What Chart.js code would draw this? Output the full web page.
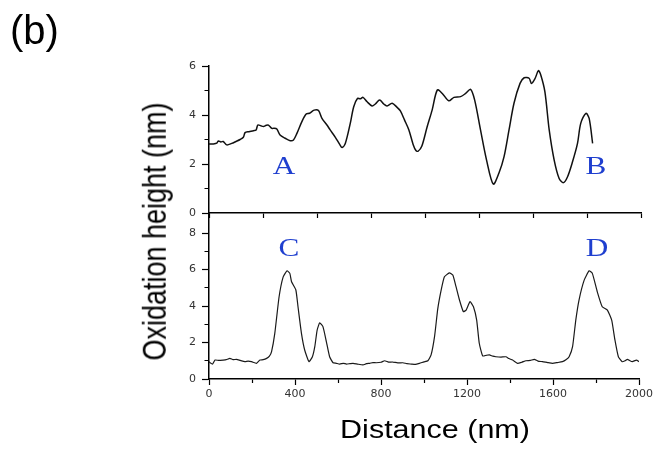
<!DOCTYPE html>
<html><head><meta charset="utf-8">
<script src="https://cdn.jsdelivr.net/npm/chart.js@4"></script>
<style>
html,body{margin:0;padding:0;background:#fff;}
#wrap{position:relative;width:656px;height:449px;overflow:hidden;background:#fff;}
.layer{position:absolute;left:0;top:0;width:656px;height:449px;}
.txt{position:absolute;white-space:nowrap;line-height:1;}
.lbl{position:absolute;width:60px;text-align:center;line-height:1;font-family:"Liberation Serif","Times New Roman",serif;font-size:26px;color:#1f3fcf;transform:scaleX(1.2);transform-origin:50% 50%;}
</style></head><body>
<div id="wrap">
<div class="layer"><canvas id="topc"></canvas></div>
<div class="layer"><canvas id="botc"></canvas></div>
<div class="txt" style="left:10px;top:10px;font-family:'Liberation Sans',Arial,sans-serif;font-size:40px;color:#000;">(b)</div>
<div class="txt" style="left:235px;top:416.8px;width:400px;text-align:center;font-family:'Liberation Sans',Arial,sans-serif;font-size:25px;color:#000;transform:scaleX(1.22);transform-origin:50% 50%;">Distance (nm)</div>
<div class="txt" style="left:-44.6px;top:217.5px;width:400px;text-align:center;font-family:'Liberation Sans',Arial,sans-serif;font-size:27px;color:#000;transform:scaleX(1.24) rotate(-90deg);transform-origin:50% 50%;">Oxidation height (nm)</div>
<div class="lbl" style="left:254px;top:153.2px;">A</div>
<div class="lbl" style="left:566px;top:153.2px;">B</div>
<div class="lbl" style="left:258.5px;top:235.2px;">C</div>
<div class="lbl" style="left:567px;top:235.2px;">D</div>
</div>
<script>
// ---- data ----
const topX = [0,20,36,43,55,66,82,105,125,144,159,167,185,206,218,226,240,252,265,275,291,300,314,329,353,376,391,407,430,450,465,487,507,523,546,561,585,605,616,631,654,670,688,700,713,732,755,770,790,809,824,848,871,886,905,925,945,958,968,985,1010,1033,1057,1080,1110,1134,1165,1188,1211,1230,1257,1285,1316,1342,1366,1389,1412,1440,1459,1482,1493,1510,1525,1536,1555,1575,1598,1621,1641,1660,1683,1706,1721,1745,1760,1776];
const topY = [2.82,2.82,2.85,2.94,2.9,2.92,2.78,2.84,2.92,3.0,3.09,3.28,3.32,3.36,3.39,3.59,3.56,3.53,3.58,3.59,3.45,3.46,3.43,3.18,3.05,2.95,2.98,3.25,3.73,4.04,4.07,4.2,4.18,3.86,3.59,3.39,3.09,2.8,2.67,2.84,3.66,4.34,4.68,4.66,4.72,4.54,4.37,4.45,4.61,4.45,4.37,4.48,4.31,4.17,3.8,3.4,2.8,2.55,2.52,2.72,3.52,4.2,5.02,4.88,4.58,4.72,4.75,4.88,5.05,4.61,3.39,2.16,1.18,1.62,2.3,3.39,4.48,5.29,5.52,5.5,5.29,5.5,5.81,5.63,4.95,3.39,2.16,1.41,1.24,1.48,2.09,2.84,3.66,4.07,3.86,2.84];
const botX = [0,5,17,28,45,66,80,97,112,128,145,167,182,198,221,237,252,268,281,291,306,326,345,363,376,384,404,414,430,445,465,481,492,503,515,530,546,561,577,592,608,625,639,655,670,690,716,732,747,762,778,800,817,835,855,878,902,920,940,960,979,1000,1018,1033,1049,1064,1080,1095,1118,1134,1149,1165,1183,1196,1214,1230,1245,1257,1273,1290,1304,1320,1334,1358,1381,1395,1412,1435,1455,1474,1495,1513,1530,1551,1575,1598,1620,1644,1660,1675,1691,1706,1721,1745,1768,1783,1806,1829,1853,1873,1888,1904,1922,1935,1946,1958,1969,1988,2000];
const botY = [0.95,0.89,0.82,1.04,1.02,1.04,1.06,1.13,1.06,1.08,1.02,0.95,0.98,0.95,0.86,1.04,1.06,1.13,1.25,1.5,2.5,4.51,5.6,5.93,5.79,5.33,4.88,3.96,2.5,1.59,0.95,1.22,1.77,2.68,3.08,2.87,2.04,1.22,0.89,0.86,0.82,0.86,0.82,0.84,0.86,0.82,0.77,0.84,0.86,0.9,0.89,0.92,1.0,0.93,0.93,0.88,0.89,0.84,0.82,0.8,0.86,0.94,1.0,1.32,2.32,3.84,4.88,5.6,5.82,5.7,5.06,4.33,3.69,3.78,4.24,3.96,3.23,1.96,1.26,1.3,1.32,1.25,1.22,1.2,1.22,1.12,1.04,0.86,0.92,1.0,1.02,1.08,0.98,0.95,0.9,0.86,0.9,0.95,1.05,1.22,1.77,3.23,4.33,5.42,5.93,5.79,4.78,3.96,3.78,3.23,2.14,1.22,0.95,1.0,1.08,1.0,0.95,1.04,0.95];
const xTickLabels = [0,400,800,1200,1600,2000];
const topYLabels = [0,2,4,6];
const botYLabels = [0,2,4,6,8];

const pts = (xs, ys) => xs.map((x, i) => ({x: x, y: ys[i]}));
const tickFont = {family: 'DejaVu Sans', size: 11};
const tickCol = '#333';

function yScale(max, labels, hideAbove) {
  return {
    type: 'linear', position: 'left', min: 0, max: max,
    afterFit: s => { s.width = 209; },
    ticks: {
      stepSize: 1, includeBounds: false, autoSkip: false, padding: 6,
      font: tickFont, color: tickCol,
      callback: v => labels.includes(v) ? String(v) : ''
    },
    grid: {
      drawOnChartArea: false, drawTicks: true, tickLength: 7, tickWidth: 1.2,
      tickColor: ctx => (ctx.tick && ctx.tick.value > hideAbove) ? 'rgba(0,0,0,0)' : '#000',
      tickBorderDash: ctx => (ctx.tick && ctx.tick.value % 2 !== 0) ? [0, 2.5, 4, 30] : []
    },
    border: {display: true, color: '#000', width: 1.5}
  };
}

new Chart(document.getElementById('topc'), {
  type: 'line',
  data: {datasets: [{data: pts(topX, topY), borderColor: '#111', borderWidth: 1.5, pointRadius: 0, tension: 0.3, fill: false}]},
  options: {
    responsive: true, maintainAspectRatio: false, animation: false,
    layout: {padding: {left: 0, top: 66, right: 15, bottom: 226}},
    plugins: {legend: {display: false}, tooltip: {enabled: false}},
    scales: {
      x: {
        type: 'linear', position: 'bottom', min: 0, max: 2000,
        afterFit: s => { s.height = 10; },
        ticks: {stepSize: 250, display: false, autoSkip: false},
        grid: {drawOnChartArea: false, drawTicks: true, tickLength: 5, tickWidth: 1.2, tickColor: '#000'},
        border: {display: true, color: '#000', width: 1.5}
      },
      y: yScale(6, topYLabels, 6)
    }
  }
});

new Chart(document.getElementById('botc'), {
  type: 'line',
  data: {datasets: [{data: pts(botX, botY), borderColor: '#1a1a1a', borderWidth: 1.2, pointRadius: 0, tension: 0.15, fill: false}]},
  options: {
    responsive: true, maintainAspectRatio: false, animation: false,
    layout: {padding: {left: 0, top: 213, right: 15, bottom: 40}},
    plugins: {legend: {display: false}, tooltip: {enabled: false}},
    scales: {
      x: {
        type: 'linear', position: 'bottom', min: 0, max: 2000,
        afterFit: s => { s.height = 30; },
        ticks: {
          stepSize: 200, autoSkip: false, maxRotation: 0, padding: 3,
          font: tickFont, color: tickCol,
          callback: v => xTickLabels.includes(v) ? String(v) : ''
        },
        grid: {
          drawOnChartArea: false, drawTicks: true, tickLength: 6, tickWidth: 1.2, tickColor: '#000',
          tickBorderDash: ctx => (ctx.tick && ctx.tick.value % 400 !== 0) ? [3.5, 30] : []
        },
        border: {display: true, color: '#000', width: 1.5}
      },
      y: yScale(9.1, botYLabels, 8)
    }
  }
});
</script>
</body></html>
